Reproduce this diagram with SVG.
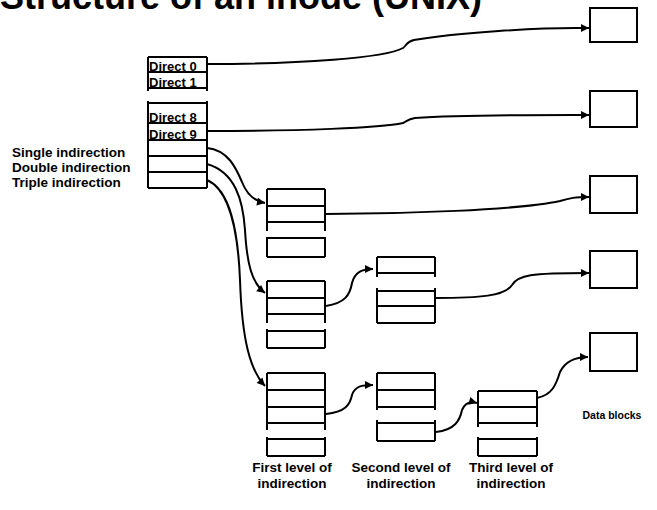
<svg xmlns="http://www.w3.org/2000/svg" width="657" height="510" viewBox="0 0 657 510">
<defs>
<marker id="ah" viewBox="0 0 10 10" refX="10" refY="5" markerWidth="10" markerHeight="8" markerUnits="userSpaceOnUse" orient="auto">
<path d="M0,0 L10,5 L0,10 z" fill="#000"/>
</marker>
<style>
.b{fill:none;stroke:#000;stroke-width:2}
.c{fill:none;stroke:#000;stroke-width:2;marker-end:url(#ah)}
.t{font-family:"Liberation Sans",Arial,sans-serif;font-weight:bold;fill:#000}
.s{font-size:13px}
.l{font-size:13.5px}
.m{font-size:13.5px;text-anchor:middle}
</style>
</defs>
<rect width="657" height="510" fill="#fff"/>
<text class="t" x="0" y="9" font-size="36">Structure of an inode (UNIX)</text>

<g id="inode">
<path class="b" d="M148,57 V91 M207,57 V91 M148,101 V188 M207,101 V188 M148,57 H207 M148,72 H207 M148,88 H207 M148,103 H207 M148,123 H207 M148,140 H207 M148,156 H207 M148,172 H207 M148,188 H207"/>
<text class="t s" x="149" y="71">Direct 0</text>
<text class="t s" x="149" y="87">Direct 1</text>
<text class="t s" x="149" y="122">Direct 8</text>
<text class="t s" x="149" y="139">Direct 9</text>
</g>
<g id="inode-labels">
<text class="t l" x="12" y="157">Single indirection</text>
<text class="t l" x="12" y="172">Double indirection</text>
<text class="t l" x="12" y="187">Triple indirection</text>
</g>

<g id="blockA"><path class="b" d="M267,189 V231 M325,189 V231 M267,237 V257 M325,237 V257 M267,189 H325 M267,206 H325 M267,222 H325 M267,238 H325 M267,257 H325"/></g>
<g id="blockB"><path class="b" d="M267,281 V323 M325,281 V323 M267,329 V348 M325,329 V348 M267,281 H325 M267,298 H325 M267,314 H325 M267,331 H325 M267,348 H325"/></g>
<g id="blockC"><path class="b" d="M377,257 V277 M435,257 V277 M377,288 V323 M435,288 V323 M377,257 H435 M377,273 H435 M377,291 H435 M377,306 H435 M377,323 H435"/></g>
<g id="blockD"><path class="b" d="M267,373 V430 M325,373 V430 M267,437 V456 M325,437 V456 M267,373 H325 M267,390 H325 M267,407 H325 M267,423 H325 M267,439 H325 M267,456 H325"/></g>
<g id="blockE"><path class="b" d="M377,373 V410 M435,373 V410 M377,420 V441 M435,420 V441 M377,373 H435 M377,390 H435 M377,407 H435 M377,423 H435 M377,441 H435"/></g>
<g id="blockF"><path class="b" d="M478,391 V427 M537,391 V427 M478,437 V456 M537,437 V456 M478,391 H537 M478,407 H537 M478,423 H537 M478,439 H537 M478,456 H537"/></g>

<g id="data1"><rect class="b" x="590" y="8" width="47" height="34"/></g>
<g id="data2"><rect class="b" x="590" y="91" width="47" height="36"/></g>
<g id="data3"><rect class="b" x="590" y="176" width="47" height="37"/></g>
<g id="data4"><rect class="b" x="590" y="251" width="47" height="37"/></g>
<g id="data5"><rect class="b" x="590" y="333" width="47" height="38"/></g>

<g id="connectors">
<path class="c" d="M207,64 C300,64 385,58 403,48 C407,45 406,42 414,40 C460,32 540,28 575,28 L589,28"/>
<path class="c" d="M207,131 C300,131 380,128 403,123 C407,121 408,119 415,118 C460,115 540,115 575,115 L589,115"/>
<path class="c" d="M207,148 C228,150 236,168 242,182 C247,195 254,201 265,203"/>
<path class="c" d="M207,164 C235,172 243,200 245,230 C247,265 252,283 265,293"/>
<path class="c" d="M207,180 C230,190 238,230 240,280 C242,340 250,370 265,386"/>
<path class="c" d="M325,214 C400,214 520,210 560,201 C570,198 575,197 589,197"/>
<path class="c" d="M326,306 C345,303 350,295 352,283 C355,272 362,269 373,269"/>
<path class="c" d="M435,298 C480,298 505,296 512,285 C518,275 530,273 589,273"/>
<path class="c" d="M326,414 C345,412 350,405 352,395 C355,386 362,385 373,385"/>
<path class="c" d="M436,432 C455,430 460,420 462,410 C465,403 470,401 477,403"/>
<path class="c" d="M537,398 C552,395 556,385 560,372 C565,362 575,357 588,357"/>
</g>

<g id="captions">
<text class="t m" x="292" y="472">First level of</text>
<text class="t m" x="292" y="488">indirection</text>
<text class="t m" x="401" y="472">Second level of</text>
<text class="t m" x="401" y="488">indirection</text>
<text class="t m" x="511" y="472">Third level of</text>
<text class="t m" x="511" y="488">indirection</text>
<text class="t" x="612" y="419" font-size="10.5" text-anchor="middle">Data blocks</text>
</g>
</svg>
